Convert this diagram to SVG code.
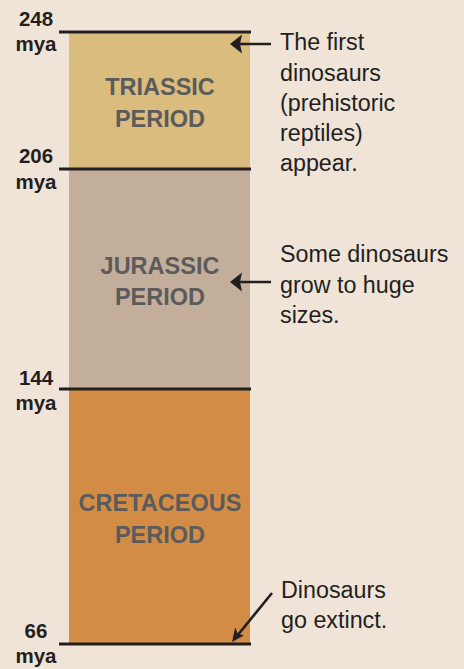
<svg xmlns="http://www.w3.org/2000/svg" width="464" height="669" viewBox="0 0 464 669">
<style>
.yr{font-family:"Liberation Sans",Arial,sans-serif;font-weight:bold;font-size:20.5px;fill:#231f20;text-anchor:middle}
.per{font-family:"Liberation Sans",Arial,sans-serif;font-weight:bold;font-size:23.5px;fill:#5b5b5b;text-anchor:middle}
.note{font-family:"Liberation Sans",Arial,sans-serif;font-size:23.3px;fill:#231f20}
.bound{stroke:#231f20;stroke-width:3}
.conn{stroke:#231f20;stroke-width:2.6;fill:none}
.head{fill:#231f20}
</style>
<rect width="464" height="669" fill="#f0e4d8"/>
<g id="triassic">
<rect x="69" y="32" width="181" height="137" fill="#d9bc7e"/>
<text class="per" x="160" y="95">TRIASSIC</text>
<text class="per" x="160" y="127">PERIOD</text>
</g>
<g id="jurassic">
<rect x="69" y="169" width="181" height="220" fill="#c2ae9b"/>
<text class="per" x="160" y="274">JURASSIC</text>
<text class="per" x="160" y="305">PERIOD</text>
</g>
<g id="cretaceous">
<rect x="69" y="389" width="181" height="255" fill="#d38c45"/>
<text class="per" x="160" y="511">CRETACEOUS</text>
<text class="per" x="160" y="543">PERIOD</text>
</g>
<g id="boundaries">
<line class="bound" x1="59" y1="32" x2="251" y2="32"/>
<line class="bound" x1="59" y1="169" x2="251" y2="169"/>
<line class="bound" x1="59" y1="389" x2="251" y2="389"/>
<line class="bound" x1="59" y1="644" x2="251" y2="644"/>
</g>
<g id="label-248">
<text class="yr" x="36" y="26">248</text>
<text class="yr" x="36" y="51">mya</text>
</g>
<g id="label-206">
<text class="yr" x="36" y="163">206</text>
<text class="yr" x="36" y="189">mya</text>
</g>
<g id="label-144">
<text class="yr" x="36" y="385">144</text>
<text class="yr" x="36" y="410">mya</text>
</g>
<g id="label-66">
<text class="yr" x="36" y="638">66</text>
<text class="yr" x="36" y="663">mya</text>
</g>
<g id="note-first">
<text class="note" x="280" y="50">The first</text>
<text class="note" x="280" y="81">dinosaurs</text>
<text class="note" x="280" y="111">(prehistoric</text>
<text class="note" x="280" y="141">reptiles)</text>
<text class="note" x="280" y="171">appear.</text>
</g>
<g id="note-huge">
<text class="note" x="280" y="262">Some dinosaurs</text>
<text class="note" x="280" y="293">grow to huge</text>
<text class="note" x="280" y="323">sizes.</text>
</g>
<g id="note-extinct">
<text class="note" x="281" y="598">Dinosaurs</text>
<text class="note" x="281" y="628">go extinct.</text>
</g>
<g id="connectors">
<line class="conn" x1="271" y1="44" x2="238" y2="44"/>
<path class="head" d="M230,44 L242,34.5 L240,44 L242,53.5 Z"/>
<line class="conn" x1="271" y1="282" x2="238" y2="282"/>
<path class="head" d="M230,282 L242,272.5 L240,282 L242,291.5 Z"/>
<line class="conn" x1="272" y1="593" x2="237" y2="636"/>
<path class="head" d="M232,642 L235.2,627.2 L237.6,633.5 L243.9,635.6 Z"/>
</g>
</svg>
